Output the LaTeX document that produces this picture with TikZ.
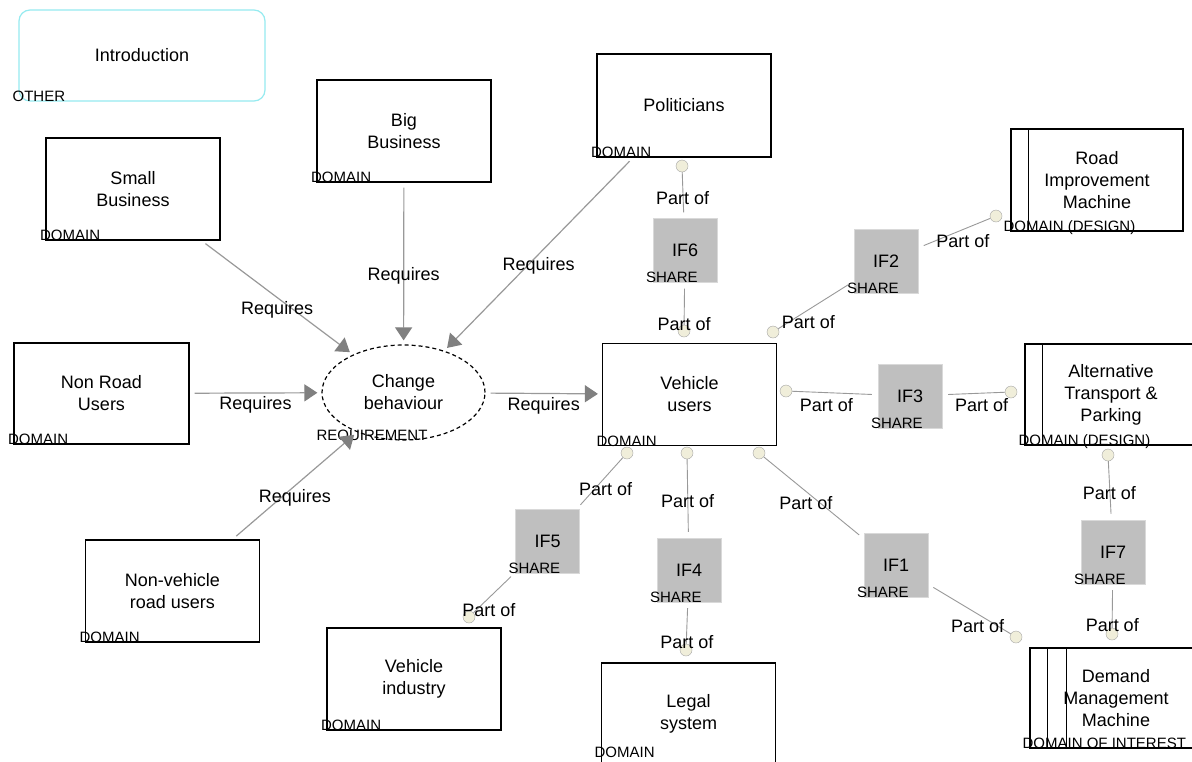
\documentclass[tikz,border=0pt]{standalone}
\usepackage{fontspec}
\setmainfont{Liberation Sans}
\usetikzlibrary{positioning,shapes.geometric,arrows.meta}

\begin{document}
\begin{tikzpicture}[x=1pt,y=-1pt]
	\tikzset{
		txt/.style={font=\fontsize{18}{22}\selectfont},
		dombox/.style={txt,draw=black,line width=1.2pt,minimum width=174pt,minimum height=102pt,align=center,inner sep=0pt},
		machine/.style={dombox,minimum width=172pt},
		stereo/.style={font=\fontsize{15}{16}\selectfont,inner sep=0pt,anchor=base west},
		iface/.style={txt,fill=black!25,draw=black!15,minimum size=64pt,inner sep=0pt},
		port/.style={circle,fill={rgb,255:red,240;green,238;blue,218},draw=black!35,minimum size=12pt,inner sep=0pt},
		lbl/.style={txt,inner sep=0pt},
		req/.style={draw=black!40,line width=1.2pt,-{Triangle[length=13pt,width=17pt,color=black!50]},shorten <=5pt,shorten >=4pt},
		partof/.style={draw=black!40,line width=0.9pt,shorten <=6pt},
	}
	\useasboundingbox[fill=white] (0,0) rectangle (1192,761);

	% problem domains
	\node[txt,draw={rgb,255:red,150;green,235;blue,240},line width=1.2pt,rounded corners=11pt,minimum width=246pt,minimum height=91pt] (intro) at (142,55.5) {Introduction};
	\node[dombox] (sb) at (133,189) {Small\\Business};
	\node[dombox] (bb) at (404,131) {Big\\Business};
	\node[dombox,minimum height=103pt] (pol) at (684,105.5) {Politicians};
	\node[dombox,minimum width=175pt,minimum height=101pt] (nru) at (101.5,393.5) {Non Road\\Users};
	\node[dombox] (nvr) at (172.5,591) {Non-vehicle\\road users};
	\node[dombox] (vu) at (689.5,394.5) {Vehicle\\users};
	\node[dombox] (vi) at (414,679) {Vehicle\\industry};
	\node[dombox] (leg) at (688.5,714) {Legal\\system};
	\node[machine] (rim) at (1097,180) {Road\\Improvement\\Machine};
	\node[machine,minimum height=101pt] (atp) at (1111,394.5) {Alternative\\Transport \&\\Parking};
	\node[machine,minimum height=100pt] (dmm) at (1116,698) {Demand\\Management\\Machine};
	\foreach \n/\d in {rim/18,atp/18,dmm/18,dmm/37}
		\draw[line width=1.2pt] ([xshift=\d pt]\n.north west) -- ([xshift=\d pt]\n.south west);

	% requirement
	\node[txt,ellipse,draw,dashed,dash pattern=on 4pt off 3pt,line width=1.2pt,minimum width=163pt,minimum height=95pt,inner sep=0pt,align=center] (cb) at (403.5,392.5) {Change\\behaviour};

	% stereotypes
	\node[stereo,xshift=-6pt] (intro-t) at (intro.south west) {OTHER};
	\foreach \n in {sb,bb,pol,nru,nvr,vu,vi}
		\node[stereo,xshift=-5.5pt] (\n-t) at (\n.south west) {DOMAIN};
	\node[stereo,xshift=-6.5pt,yshift=8pt] (leg-t) at (leg.south west) {DOMAIN};
	\node[stereo,xshift=-7pt] (rim-t) at (rim.south west) {DOMAIN (DESIGN)};
	\node[stereo,xshift=-6pt] (atp-t) at (atp.south west) {DOMAIN (DESIGN)};
	\node[stereo,xshift=-7pt] (dmm-t) at (dmm.south west) {DOMAIN OF INTEREST};
	\node[stereo,xshift=-5pt] (cb-t) at (cb.west |- cb.south) {REQUIREMENT};

	% requires
	\draw[req] (sb) -- node[lbl,midway,yshift=-12pt] {Requires} (cb);
	\draw[req] (bb) -- node[lbl,midway,yshift=-12pt] {Requires} (cb);
	\draw[req] (pol) -- node[lbl,midway,yshift=-12pt] {Requires} (cb);
	\draw[req] (nru) -- node[lbl,midway,yshift=-12pt] {Requires} (cb);
	\draw[req] (nvr) -- node[lbl,midway,yshift=-12pt] {Requires} (cb);
	\draw[req] (cb) -- node[lbl,midway,yshift=-12pt] {Requires} (vu);

	% shared phenomena
	\foreach \i/\x/\y in {6/685/250.5,2/886/261,3/910/396,5/547.5/541.5,4/689/570,1/896/565,7/1113/552}{
		\node[iface] (if\i) at (\x,\y) {IF\i};
		\node[stereo,xshift=-7pt] (if\i-t) at (if\i.south west) {SHARE};
	}
	\foreach \n/\x/\y in {pPol/682/166,pVuT/684/331,pVuTR/773/332,pRim/996/216,pVuR/786/391,pAtpL/1011/392,pVuB1/627/453,pVuB2/687/453,pVuB3/759/453,pVi/469/617,pLeg/686/650,pAtpB/1108/455,pDmm1/1016/637,pDmm2/1112/634}
		\node[port] (\n) at (\x,\y) {};

	\draw[partof] (if6) -- node[lbl,pos=.69,yshift=-12pt] {Part of} (pPol);
	\draw[partof] (if6) -- node[lbl,pos=.69,yshift=-12pt] {Part of} (pVuT);
	\draw[partof] (if2) -- node[lbl,pos=.62,yshift=-12pt] {Part of} (pRim);
	\draw[partof] (if2) -- node[lbl,pos=.6,yshift=-12pt] {Part of} (pVuTR);
	\draw[partof] (if3) -- node[lbl,pos=.6,yshift=-12pt] {Part of} (pVuR);
	\draw[partof] (if3) -- node[lbl,pos=.63,yshift=-12pt] {Part of} (pAtpL);
	\draw[partof] (if5) -- node[lbl,pos=.63,yshift=-12pt] {Part of} (pVuB1);
	\draw[partof] (if5) -- node[lbl,pos=.63,yshift=-12pt] {Part of} (pVi);
	\draw[partof] (if4) -- node[lbl,pos=.62,yshift=-12pt] {Part of} (pVuB2);
	\draw[partof] (if4) -- node[lbl,pos=.66,yshift=-12pt] {Part of} (pLeg);
	\draw[partof] (if1) -- node[lbl,pos=.58,yshift=-12pt] {Part of} (pVuB3);
	\draw[partof] (if1) -- node[lbl,pos=.6,yshift=-12pt] {Part of} (pDmm1);
	\draw[partof] (if7) -- node[lbl,pos=.66,yshift=-12pt] {Part of} (pAtpB);
	\draw[partof] (if7) -- node[lbl,pos=.67,yshift=-12pt] {Part of} (pDmm2);
\end{tikzpicture}
\end{document}
